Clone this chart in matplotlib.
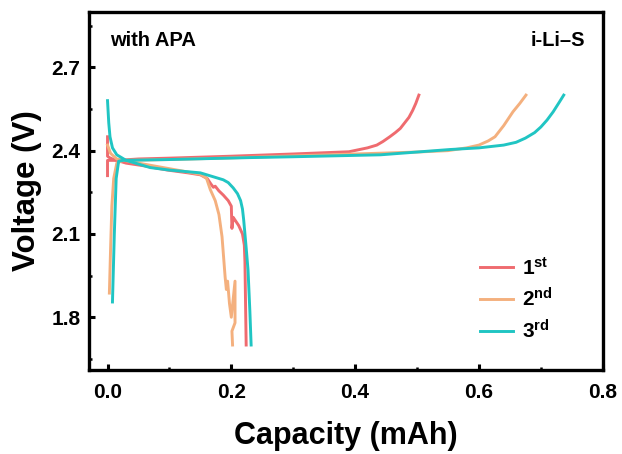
import matplotlib
matplotlib.use("Agg")
import matplotlib.pyplot as plt
from matplotlib.ticker import MultipleLocator

plt.rcParams['font.family'] = ['Liberation Sans', 'DejaVu Sans']
plt.rcParams['font.weight'] = 'bold'
plt.rcParams['mathtext.fontset'] = 'custom'
plt.rcParams['mathtext.rm'] = 'Liberation Sans:bold'
plt.rcParams['mathtext.bf'] = 'Liberation Sans:bold'
plt.rcParams['mathtext.it'] = 'Liberation Sans:bold'

# ---- data ----
labels = [r'$\mathbf{1^{st}}$', r'$\mathbf{2^{nd}}$', r'$\mathbf{3^{rd}}$']
colors = ['#EF6B6F', '#F4B07E', '#20C5C3']

# 1st cycle
d1_x = [0, 0, 0.003, 0.008, 0.015, 0.03, 0.06, 0.097, 0.13, 0.15, 0.161, 0.167, 0.171, 0.174,
        0.18, 0.187, 0.195, 0.2, 0.201, 0.203, 0.206, 0.212, 0.218, 0.221, 0.222, 0.223, 0.224]
d1_y = [2.45, 2.38, 2.375, 2.37, 2.365, 2.355, 2.345, 2.33, 2.32, 2.313, 2.30, 2.28, 2.268, 2.272,
        2.255, 2.24, 2.22, 2.20, 2.12, 2.16, 2.15, 2.13, 2.10, 2.06, 2.0, 1.85, 1.70]
c1_x = [0, 0, 0.016, 0.05, 0.1, 0.2, 0.3, 0.39, 0.42, 0.435, 0.445, 0.456, 0.465, 0.473, 0.48,
        0.487, 0.493, 0.498, 0.503]
c1_y = [2.31, 2.365, 2.365, 2.37, 2.373, 2.38, 2.388, 2.396, 2.41, 2.42, 2.433, 2.45, 2.465, 2.48,
        2.50, 2.52, 2.545, 2.57, 2.60]

# 2nd cycle
d2_x = [0.0, 0.005, 0.015, 0.05, 0.1, 0.15, 0.16, 0.166, 0.174, 0.18, 0.185, 0.19, 0.192, 0.194,
        0.197, 0.2, 0.206, 0.206, 0.201, 0.202]
d2_y = [2.42, 2.39, 2.37, 2.355, 2.335, 2.315, 2.30, 2.26, 2.22, 2.17, 2.09, 1.945, 1.90, 1.93,
        1.85, 1.80, 1.93, 1.78, 1.75, 1.70]
c2_x = [0.003, 0.005, 0.007, 0.01, 0.015, 0.025, 0.1, 0.2, 0.3, 0.4, 0.5, 0.55, 0.58, 0.6, 0.615,
        0.626, 0.64, 0.655, 0.666, 0.676]
c2_y = [1.887, 2.05, 2.2, 2.3, 2.355, 2.365, 2.368, 2.374, 2.381, 2.388, 2.395, 2.40, 2.41, 2.42,
        2.435, 2.45, 2.49, 2.54, 2.57, 2.60]

# 3rd cycle
d3_x = [0, 0.002, 0.004, 0.008, 0.015, 0.03, 0.069, 0.1, 0.15, 0.187, 0.195, 0.203, 0.21, 0.215,
        0.218, 0.22, 0.224, 0.227, 0.23, 0.232]
d3_y = [2.58, 2.5, 2.45, 2.41, 2.385, 2.365, 2.339, 2.33, 2.32, 2.295, 2.285, 2.266, 2.245, 2.22,
        2.19, 2.15, 2.05, 1.97, 1.82, 1.70]
c3_x = [0.008, 0.011, 0.014, 0.018, 0.025, 0.1, 0.231, 0.3, 0.441, 0.553, 0.6, 0.64, 0.66, 0.675,
        0.69, 0.70, 0.71, 0.72, 0.73, 0.737]
c3_y = [1.855, 2.1, 2.3, 2.362, 2.365, 2.368, 2.375, 2.378, 2.385, 2.404, 2.41, 2.42, 2.43, 2.445,
        2.465, 2.485, 2.51, 2.54, 2.575, 2.60]

xticks = [0.0, 0.2, 0.4, 0.6, 0.8]
yticks = [1.8, 2.1, 2.4, 2.7]

# ---- figure ----
fig = plt.figure(figsize=(6.22, 4.54), dpi=100)
ax = fig.add_axes([0.143, 0.185, 0.826, 0.789])

cycles = [(d1_x, d1_y, c1_x, c1_y), (d2_x, d2_y, c2_x, c2_y), (d3_x, d3_y, c3_x, c3_y)]
for (dx, dy, cx, cy), col, lab in zip(cycles, colors, labels):
    ax.plot(dx, dy, color=col, lw=2.1, label=lab, solid_joinstyle='round')
    ax.plot(cx, cy, color=col, lw=2.1, solid_joinstyle='round')

ax.set_xlim(-0.03, 0.8)
ax.set_ylim(1.61, 2.9)
ax.set_xticks(xticks)
ax.set_xticklabels([f'{v:.1f}' for v in xticks])
ax.set_yticks(yticks)
ax.set_yticklabels([f'{v:.1f}' for v in yticks])
ax.xaxis.set_minor_locator(MultipleLocator(0.1))
ax.yaxis.set_minor_locator(MultipleLocator(0.15))
ax.tick_params(which='major', direction='in', length=4, width=2.2, labelsize=15)
ax.tick_params(axis='x', which='major', pad=9)
ax.tick_params(axis='y', which='major', pad=6)
ax.tick_params(which='minor', direction='in', length=2, width=1.8)
for s in ax.spines.values():
    s.set_linewidth(2.4)

ax.set_xlabel('Capacity (mAh)', fontsize=22, fontweight='bold', labelpad=14)
ax.set_ylabel('Voltage (V)', fontsize=22.5, fontweight='bold', labelpad=7)

ax.text(0.041, 0.92, 'with APA', transform=ax.transAxes, fontsize=14.5, fontweight='bold',
        ha='left', va='center')
ax.text(0.965, 0.92, 'i-Li–S', transform=ax.transAxes, fontsize=14.5, fontweight='bold',
        ha='right', va='center')

leg = ax.legend(loc='lower right', bbox_to_anchor=(0.94, 0.025), frameon=False, fontsize=15,
                handlelength=1.6, handletextpad=0.45, labelspacing=0.42)

fig.savefig('out.png', dpi=100)
